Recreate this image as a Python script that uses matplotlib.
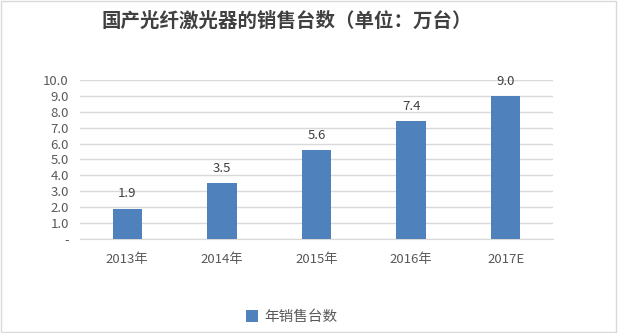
import matplotlib.pyplot as plt
from matplotlib.patches import Rectangle

plt.rcParams['font.family'] = ['Noto Sans CJK SC', 'DejaVu Sans']

# 国产光纤激光器年销售台数（万台）
years = ["2013年", "2014年", "2015年", "2016年", "2017E"]
sales = [1.9, 3.5, 5.6, 7.4, 9.0]
y_ticks = [0, 1, 2, 3, 4, 5, 6, 7, 8, 9, 10]
y_labels = ["-"] + [f"{v:.1f}" for v in y_ticks[1:]]

bar_color = "#4F81BD"
text_color = "#595959"
grid_color = "#D9D9D9"

fig = plt.figure(figsize=(6.18, 3.33), dpi=100)
ax = fig.add_axes([0.1294, 0.2823, 0.7654, 0.4775])

x = range(len(years))
bars = ax.bar(x, sales, width=0.31, color=bar_color, zorder=3, label="年销售台数")
for xi, v in zip(x, sales):
    ax.annotate(f"{v:.1f}", (xi, v), xytext=(0, 6), textcoords="offset points",
                ha="center", va="bottom", fontsize=9.5, color="#404040")

ax.set_xlim(-0.5, len(years) - 0.5)
ax.set_ylim(0, 10)
ax.set_yticks(y_ticks)
ax.set_yticklabels(y_labels)
ax.set_xticks(list(x))
ax.set_xticklabels(years)
ax.tick_params(axis="both", length=0, labelsize=9.5, colors=text_color)
ax.tick_params(axis="y", pad=8)
ax.tick_params(axis="x", pad=10)
ax.grid(axis="y", color=grid_color, linewidth=1, zorder=0)
for side in ["top", "right", "left"]:
    ax.spines[side].set_visible(False)
ax.spines["bottom"].set_color(grid_color)

fig.text(0.464, 0.937, "国产光纤激光器的销售台数（单位：万台）", ha="center", va="center",
         fontsize=14, fontweight="bold", color="#404040")

fig.legend(handles=[bars], loc="center", bbox_to_anchor=(0.472, 0.048), frameon=False,
           fontsize=10.5, handlelength=0.8, handleheight=0.8, handletextpad=0.4,
           labelcolor=text_color)

# 图表外框
fig.patches.append(Rectangle((0.002, 0.003), 0.994, 0.994, transform=fig.transFigure,
                             fill=False, edgecolor="#D9D9D9", linewidth=1))

fig.savefig("out.png", dpi=100)
